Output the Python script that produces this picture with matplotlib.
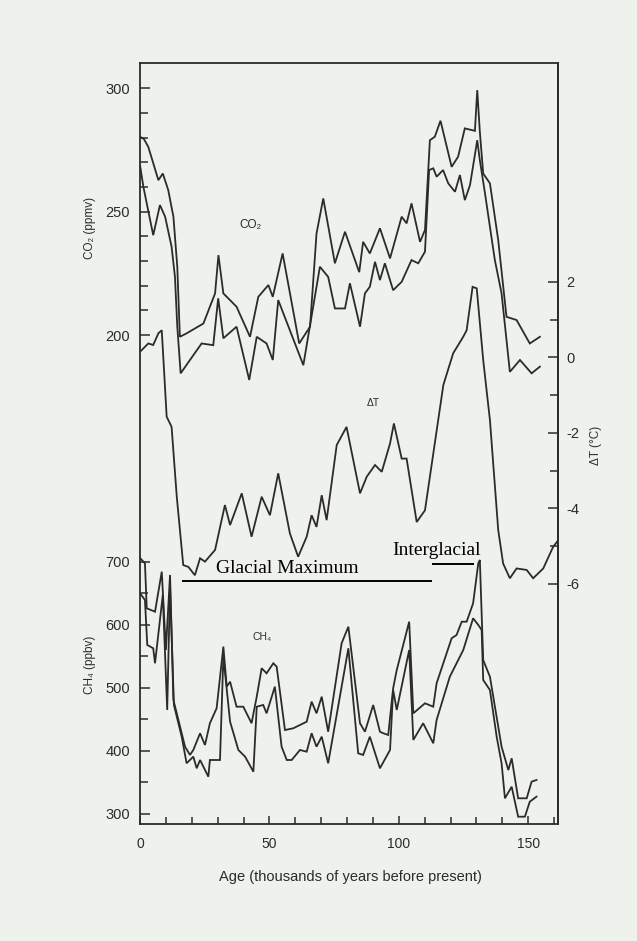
import matplotlib
matplotlib.use("Agg")
import matplotlib.pyplot as plt
from matplotlib.ticker import FixedLocator, FuncFormatter

plt.rcParams["font.family"] = ["Liberation Sans", "DejaVu Sans"]
plt.rcParams["axes.unicode_minus"] = False

# ---- Vostok ice-core records (age in thousands of years before present) ----
co2_hi_age = [0, 1.5, 3.2, 7.1, 8.8, 10.9, 12.9, 14.4, 15.4, 18.0, 24.5, 29.0, 30.3, 32.2,
              37.3, 42.5, 45.7, 49.6, 51.3, 55.1, 61.5, 65.7, 68.2, 70.8, 75.3, 79.2, 84.7,
              86.2, 88.8, 92.7, 96.6, 101.1, 103.0, 104.9, 108.2, 110.1, 112.0, 113.9, 116.1,
              120.4, 122.9, 125.5, 129.4, 130.3, 131.3, 132.6, 135.2, 138.4, 141.6, 145.5,
              150.6, 154.5]
co2_hi = [280.4, 279.5, 276.3, 262.8, 265.5, 258.8, 248.0, 227.7, 199.3, 200.7, 204.7, 216.9,
          232.4, 216.9, 211.5, 199.3, 215.5, 220.3, 215.5, 233.1, 196.6, 203.4, 241.2, 255.4,
          229.1, 241.9, 225.5, 237.8, 233.1, 243.3, 231.1, 248.0, 245.3, 253.4, 237.8, 242.6,
          279.0, 280.4, 286.9, 268.2, 272.3, 283.8, 282.8, 299.3, 282.4, 265.5, 261.5, 238.5,
          207.4, 206.1, 196.6, 199.3]

co2_lo_age = [0, 1.3, 5.1, 7.7, 9.7, 12.2, 13.5, 14.4, 15.7, 19.3, 23.8, 28.3, 30.2, 32.2,
              37.3, 42.2, 45.1, 48.9, 51.3, 53.4, 63.1, 69.5, 72.7, 75.3, 79.2, 81.1, 85.0,
              86.9, 88.8, 90.8, 92.7, 94.6, 97.8, 101.1, 104.9, 107.5, 110.1, 111.7, 113.3,
              114.6, 117.1, 119.1, 121.7, 123.6, 125.5, 127.5, 130.3, 131.3, 133.3, 137.1,
              139.7, 142.9, 146.8, 151.3, 154.5]
co2_lo = [268.9, 260.1, 240.5, 252.7, 248.0, 235.8, 223.6, 203.4, 184.5, 189.9, 196.6, 195.9,
          214.9, 198.7, 203.4, 181.8, 199.3, 196.6, 189.9, 214.2, 187.8, 227.7, 223.6, 210.8,
          210.8, 221.0, 203.4, 216.9, 219.6, 229.7, 222.3, 229.1, 218.2, 221.6, 230.4, 229.1,
          233.8, 266.9, 267.6, 264.2, 266.9, 261.5, 258.1, 264.9, 254.7, 260.8, 279.0, 270.9,
          257.4, 230.4, 216.9, 185.1, 189.9, 184.5, 187.2]

dT_age = [0, 3.2, 5.1, 7.1, 8.4, 10.3, 12.2, 14.2, 16.7, 18.7, 21.2, 23.2, 25.1, 29.0, 32.8,
          34.8, 39.3, 43.1, 47.0, 50.2, 53.4, 57.9, 61.1, 64.4, 66.3, 68.2, 70.2, 72.1, 76.0,
          79.8, 85.0, 87.6, 90.8, 93.4, 96.6, 98.1, 101.1, 103.0, 106.9, 110.1, 117.2, 121.0,
          124.9, 126.2, 128.5, 130.1, 132.6, 135.2, 138.4, 140.3, 142.9, 145.5, 149.4, 151.9,
          155.8, 159.6, 161.5]
dT = [0.15, 0.37, 0.33, 0.64, 0.72, -1.57, -1.84, -3.69, -5.50, -5.55, -5.77, -5.32, -5.41,
      -5.10, -3.91, -4.44, -3.60, -4.75, -3.69, -4.18, -3.07, -4.66, -5.28, -4.75, -4.18,
      -4.49, -3.65, -4.31, -2.32, -1.84, -3.60, -3.16, -2.85, -3.03, -2.28, -1.75, -2.68,
      -2.68, -4.36, -4.05, -0.73, 0.11, 0.55, 0.72, 1.87, 1.83, -0.07, -1.66, -4.57, -5.46,
      -5.85, -5.59, -5.63, -5.85, -5.59, -5.02, -4.85]

ch4_hi_age = [0, 1.9, 2.6, 5.8, 8.4, 10.0, 11.6, 12.9, 17.4, 19.3, 20.6, 23.2, 25.1, 27.0,
              29.6, 32.2, 33.5, 34.8, 37.3, 39.9, 43.1, 45.1, 47.0, 48.9, 51.5, 52.8, 56.0,
              59.2, 64.4, 66.3, 68.2, 70.2, 72.7, 77.9, 80.5, 85.0, 86.9, 90.1, 92.7, 94.0,
              95.9, 97.8, 99.2, 104.0, 105.6, 110.1, 113.3, 114.6, 120.4, 122.3, 124.3, 126.2,
              128.7, 130.7, 131.3, 132.6, 135.2, 139.7, 142.3, 143.6, 146.1, 149.4, 151.3, 153.2]
ch4_hi = [706.3, 697.9, 626.5, 621.1, 684.6, 560.3, 679.4, 481.0, 406.8, 393.7, 401.6, 428.1,
          409.5, 444.0, 467.8, 565.6, 502.1, 510.0, 470.3, 470.3, 444.0, 486.2, 531.3, 523.3,
          539.2, 533.8, 433.3, 436.0, 446.5, 478.3, 459.8, 486.2, 430.6, 571.0, 597.3, 444.0,
          430.6, 473.0, 430.6, 428.1, 425.4, 499.5, 528.6, 605.2, 459.8, 475.7, 470.3, 507.5,
          578.9, 584.1, 605.2, 605.2, 634.4, 697.9, 703.2, 544.4, 517.9, 406.8, 369.8, 388.4,
          324.9, 324.9, 351.3, 354.0]

ch4_lo_age = [0, 1.9, 2.8, 5.1, 5.8, 8.8, 10.5, 11.6, 13.1, 16.1, 18.0, 20.6, 21.9, 23.2,
              26.4, 27.0, 30.9, 32.2, 34.8, 38.0, 40.6, 43.8, 45.1, 47.6, 48.9, 52.1, 54.7,
              56.7, 58.6, 61.8, 64.4, 66.3, 68.2, 70.2, 72.7, 80.5, 84.3, 86.2, 88.8, 92.7,
              96.6, 97.8, 99.2, 104.0, 105.6, 109.4, 113.3, 114.6, 119.7, 124.9, 128.7, 130.7,
              132.0, 132.6, 135.2, 137.8, 139.7, 141.0, 143.6, 146.1, 148.7, 150.6, 153.2]
ch4_lo = [650.3, 639.7, 568.3, 563.0, 539.2, 647.6, 465.1, 660.8, 473.0, 422.7, 380.5, 391.0,
          372.5, 385.7, 359.2, 385.7, 385.7, 549.7, 446.5, 401.6, 391.0, 367.1, 470.3, 473.0,
          459.8, 502.1, 406.8, 385.7, 385.7, 401.6, 398.9, 428.1, 406.8, 422.7, 380.5, 563.0,
          396.3, 393.7, 422.7, 372.5, 401.6, 496.8, 465.1, 560.3, 417.5, 444.0, 412.2, 449.2,
          517.9, 560.3, 610.6, 600.0, 592.1, 512.7, 496.8, 422.7, 380.5, 324.9, 343.3, 295.7,
          295.7, 319.5, 327.5]

# climate periods marked along the temperature curve
period_names = ["Glacial Maximum", "Interglacial"]
period_start = [16.1, 112.8]
period_end = [112.8, 129.1]

age_ticks = [0, 50, 100, 150]
co2_ticks = [200, 250, 300]
dT_ticks = [2, 0, -2, -4, -6]
ch4_ticks = [300, 400, 500, 600, 700]

# ---- figure ----
W, H = 637, 941
BG = "#eff1ed"
INK = "#2b2b2b"
fig = plt.figure(figsize=(W / 100, H / 100), dpi=100, facecolor=BG)

rect = [139.5 / W, 1 - 824 / H, (558 - 139.5) / W, (824 - 63) / H]

# CO2 axes carries the frame and the age axis
ax = fig.add_axes(rect)
ax.set_facecolor("none")
ax.set_xlim(-0.2, 161.5)
ax.set_ylim(1.8, 310.3)
for s in ax.spines.values():
    s.set_color(INK)
    s.set_linewidth(1.3)

# temperature on the right
axt = ax.twinx()
axt.set_ylim(-12.36, 7.80)
for name in ("left", "top", "bottom"):
    axt.spines[name].set_visible(False)
axt.spines["right"].set_color(INK)
axt.spines["right"].set_linewidth(1.3)

# methane, sharing the left spine lower down
axm = fig.add_axes(rect, sharex=ax, frameon=False)
axm.set_facecolor("none")
axm.set_ylim(284.1, 1492)

line_kw = dict(color=INK, lw=1.3, solid_joinstyle="miter")
ax.plot(co2_hi_age, co2_hi, **line_kw)
ax.plot(co2_lo_age, co2_lo, **line_kw)
axt.plot(dT_age, dT, **line_kw)
axm.plot(ch4_hi_age, ch4_hi, **line_kw)
axm.plot(ch4_lo_age, ch4_lo, **line_kw)

side_font = dict(labelsize=10.5, labelcolor=INK, color=INK)
bottom_font = dict(labelsize=10, labelcolor=INK, color=INK)

# age axis
ax.xaxis.set_major_locator(FixedLocator(age_ticks))
ax.xaxis.set_minor_locator(FixedLocator([a for a in range(10, 161, 10) if a not in age_ticks]))
ax.tick_params(axis="x", which="both", direction="in", top=False, width=1.1, pad=9,
               **bottom_font)
ax.tick_params(axis="x", which="major", length=6)
ax.tick_params(axis="x", which="minor", length=5)

# CO2 axis
ax.yaxis.set_major_locator(FixedLocator(co2_ticks))
ax.yaxis.set_minor_locator(FixedLocator([v for v in range(210, 300, 10) if v not in co2_ticks]))
ax.tick_params(axis="y", which="both", direction="in", right=False, width=1.1, pad=7,
               **side_font)
ax.tick_params(axis="y", which="major", length=7)
ax.tick_params(axis="y", which="minor", length=6)

# temperature axis
axt.yaxis.set_major_locator(FixedLocator(dT_ticks))
axt.yaxis.set_minor_locator(FixedLocator([1, -1, -3, -5]))
axt.yaxis.set_major_formatter(FuncFormatter(lambda v, p: f"{v:g}"))
axt.tick_params(axis="y", which="both", direction="in", width=1.1, pad=6, **side_font)
axt.tick_params(axis="y", which="major", length=7)
axt.tick_params(axis="y", which="minor", length=6)

# methane axis
axm.yaxis.set_major_locator(FixedLocator(ch4_ticks))
axm.yaxis.set_minor_locator(FixedLocator([350, 450, 550, 650]))
axm.tick_params(axis="y", which="both", direction="in", left=True, right=False, width=1.1,
                pad=7, **side_font)
axm.tick_params(axis="y", which="major", length=7)
axm.tick_params(axis="y", which="minor", length=6)
axm.tick_params(axis="x", which="both", bottom=False, labelbottom=False)

# axis titles
fig.text(350.8 / W, 1 - 876.7 / H, "Age (thousands of years before present)",
         ha="center", va="center", fontsize=10.5, color=INK)
fig.text(90 / W, 1 - 228 / H, "CO₂ (ppmv)", rotation=90, ha="center", va="center",
         fontsize=8.5, color=INK)
fig.text(90 / W, 1 - 665 / H, "CH₄ (ppbv)", rotation=90, ha="center", va="center",
         fontsize=8.5, color=INK)
fig.text(596 / W, 1 - 445 / H, "ΔT (°C)", rotation=90, ha="center", va="center",
         fontsize=8.5, color=INK)

# series names inside the plot
ax.text(42.5, 244.6, "CO₂", ha="center", va="center", fontsize=8.5, color=INK)
axt.text(90.1, -1.22, "ΔT", ha="center", va="center", fontsize=7.5, color=INK)
axm.text(47.0, 581.4, "CH₄", ha="center", va="center", fontsize=7.5, color=INK)

# climate period markers
serif = ["Liberation Serif", "DejaVu Serif"]
bar_levels = [-5.92, -5.48]
label_levels = [-5.72, -5.24]
label_starts = [29.4, 97.6]
for name, a0, a1, yb, yl, xl in zip(period_names, period_start, period_end,
                                    bar_levels, label_levels, label_starts):
    axt.hlines(yb, a0, a1, color="black", lw=1.4)
    axt.text(xl, yl, name, ha="left", va="baseline", fontsize=14, color="black",
             family=serif)

fig.savefig("out.png", dpi=100, facecolor=BG)
